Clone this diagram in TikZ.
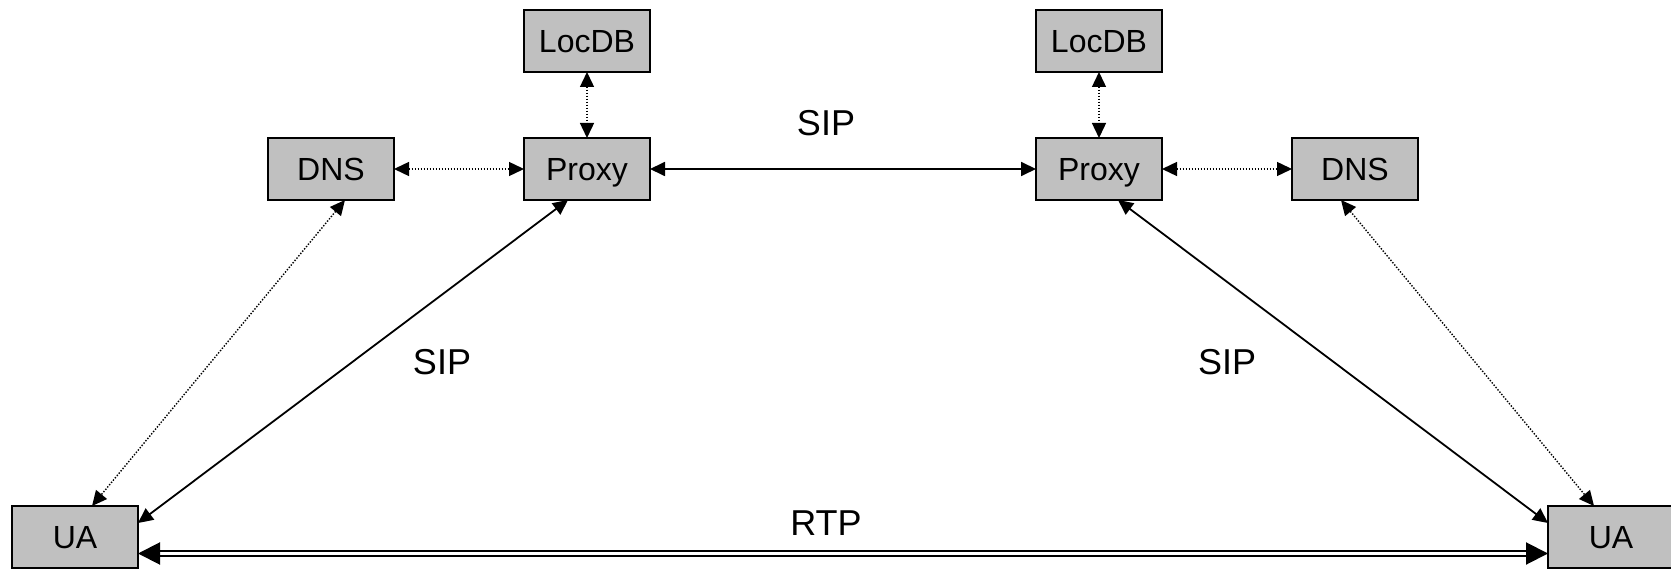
\documentclass[tikz,border=0pt]{standalone}
\usepackage{fontspec}
\setmainfont{Liberation Sans}
\usetikzlibrary{arrows.meta}
\definecolor{boxgray}{RGB}{192,192,192}
\begin{document}
\begin{tikzpicture}[x=1pt,y=-1pt,
  entity/.style={draw=black,line width=2.4pt,fill=boxgray,minimum width=126pt,minimum height=62pt,
    inner sep=0pt,outer sep=0pt,text height=23pt,text depth=0pt,font=\fontsize{32}{38}\selectfont},
  proto/.style={font=\fontsize{36}{43}\selectfont,inner sep=0pt},
  sig/.style={line width=1.8pt,{Triangle[length=15pt,width=14pt]}-{Triangle[length=15pt,width=14pt]}},
  lookup/.style={line width=1.4pt,dash pattern=on 1.4pt off 1.6pt,
    {Triangle[length=15pt,width=14pt]}-{Triangle[length=15pt,width=14pt]}},
  media/.style={line width=2pt,double=white,double distance=2.6pt,
    {Triangle[length=22pt,width=22pt]}-{Triangle[length=22pt,width=22pt]}}]
\useasboundingbox (0,0) rectangle (1671,569);
\clip (0,0) rectangle (1671,569);

% network entities
\node[entity] (locL)   at (587,41)   {LocDB};
\node[entity] (proxyL) at (587,169)  {Proxy};
\node[entity] (dnsL)   at (331,169)  {DNS};
\node[entity] (locR)   at (1099,41)  {LocDB};
\node[entity] (proxyR) at (1099,169) {Proxy};
\node[entity] (dnsR)   at (1355,169) {DNS};
\node[entity] (uaL)    at (75,537)   {UA};
\node[entity] (uaR)    at (1611,537) {UA};

% helper points for the diagonal links
\coordinate (pLb) at ([xshift=-19pt]proxyL.south);
\coordinate (dLb) at ([xshift=14pt]dnsL.south);
\coordinate (uLs) at ([yshift=-17pt]uaL.north east);
\coordinate (uLt) at ([xshift=17pt]uaL.north);
\coordinate (pRb) at ([xshift=19pt]proxyR.south);
\coordinate (dRb) at ([xshift=-14pt]dnsR.south);
\coordinate (uRs) at ([yshift=-17pt]uaR.north west);
\coordinate (uRt) at ([xshift=-17pt]uaR.north);
\coordinate (rtpL) at ([yshift=-16.5pt]uaL.east);
\coordinate (rtpR) at ([yshift=-16.5pt]uaR.west);

% location / name lookups
\draw[lookup] (locL.south) -- (proxyL.north);
\draw[lookup] (locR.south) -- (proxyR.north);
\draw[lookup] (dnsL.east) -- (proxyL.west);
\draw[lookup] (proxyR.east) -- (dnsR.west);
\draw[lookup] (dLb) -- (uLt);
\draw[lookup] (dRb) -- (uRt);

% signalling
\draw[sig] (proxyL.east) -- (proxyR.west);
\draw[sig] (pLb) -- (uLs);
\draw[sig] (pRb) -- (uRs);

% media stream
\draw[media] (rtpL) -- (rtpR);

% protocol labels
\node[proto] (sipTop)   at (826,123) {SIP};
\node[proto] (sipLeft)  at (442,362) {SIP};
\node[proto] (sipRight) at (1227,362) {SIP};
\node[proto] (rtp)      at (826,523) {RTP};
\end{tikzpicture}
\end{document}
